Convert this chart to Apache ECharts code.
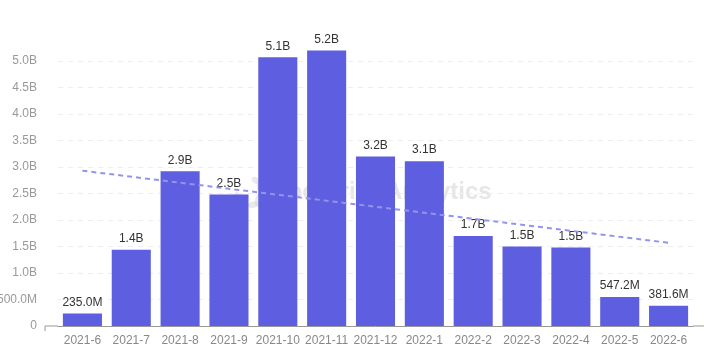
<!doctype html>
<html>
    <head>
        <meta charset="utf-8">
        <title>Monthly volume</title>
        <style>
            html, body { margin: 0; padding: 0; background: #fff; }
            #main { width: 704px; height: 351px; }
        </style>
    </head>
    <body>
        <div id="main"></div>
        <script src="https://cdn.jsdelivr.net/npm/echarts@6/dist/echarts.min.js"></script>
        <script>
            var months = ['2021-6', '2021-7', '2021-8', '2021-9', '2021-10', '2021-11', '2021-12',
                '2022-1', '2022-2', '2022-3', '2022-4', '2022-5', '2022-6'];
            var volume = [235.0e6, 1.44e9, 2.92e9, 2.48e9, 5.07e9, 5.2e9, 3.2e9,
                3.11e9, 1.7e9, 1.5e9, 1.48e9, 547.2e6, 381.6e6];
            // dashed trend line, endpoints
            var trend = [[0, 2.93e9], [12, 1.57e9]];

            function fmt(v) {
                if (v === 0) return '0';
                if (Math.abs(v) >= 1e9) return (v / 1e9).toFixed(1) + 'B';
                return (v / 1e6).toFixed(1) + 'M';
            }

            // little watermark logo: a ring of blobs
            var logo = [];
            [[-60, 7, -12], [-15, 12, -6], [30, 12, 4], [75, 7, 12], [150, 9, 0]].forEach(function (b) {
                var a = b[0] * Math.PI / 180;
                logo.push({
                    type: 'circle',
                    x: 250 + 13 * Math.cos(a),
                    y: 192 + 13 * Math.sin(a),
                    scaleX: 0.6,
                    rotation: -a,
                    shape: { cx: 0, cy: 0, r: b[1] / 1.3 },
                    style: { fill: 'rgba(215,215,215,0.55)' },
                    silent: true
                });
            });

            var chart = echarts.init(document.getElementById('main'));

            chart.setOption({
                animation: false,
                textStyle: { fontFamily: 'sans-serif' },
                grid: { left: 58, right: 11, top: 50.4, bottom: 25, outerBoundsMode: 'none' },
                graphic: logo.concat([{
                    type: 'text',
                    x: 273,
                    y: 192,
                    silent: true,
                    style: {
                        text: 'Footprint Analytics',
                        fill: 'rgba(210,210,210,0.55)',
                        font: 'bold 24px sans-serif',
                        verticalAlign: 'middle'
                    }
                }, {
                    type: 'line',
                    shape: { x1: 45, y1: 326, x2: 58, y2: 326 },
                    style: { stroke: '#999', lineWidth: 1 }
                }, {
                    type: 'line',
                    shape: { x1: 45, y1: 326, x2: 45, y2: 331 },
                    style: { stroke: '#999', lineWidth: 1 }
                }, {
                    type: 'line',
                    shape: { x1: 693, y1: 326, x2: 704, y2: 326 },
                    style: { stroke: '#999', lineWidth: 1 }
                }]),
                xAxis: {
                    type: 'category',
                    data: months,
                    axisLine: { lineStyle: { color: '#999' } },
                    axisTick: { show: false },
                    axisLabel: { color: '#888', fontSize: 12, margin: 9, interval: 0 }
                },
                yAxis: {
                    type: 'value',
                    min: 0,
                    max: 5.2e9,
                    interval: 5e8,
                    axisLine: { show: false },
                    axisTick: { show: false },
                    axisLabel: {
                        color: '#999',
                        fontSize: 12,
                        margin: 21,
                        showMaxLabel: false,
                        formatter: fmt
                    },
                    splitLine: {
                        showMaxLine: false,
                        lineStyle: { color: '#eee', type: [5, 5] }
                    }
                },
                series: [{
                    type: 'bar',
                    data: volume,
                    barCategoryGap: '20%',
                    itemStyle: { color: '#5e5ee0' },
                    label: {
                        show: true,
                        position: 'top',
                        color: '#333',
                        fontSize: 12,
                        formatter: function (p) { return fmt(p.value); }
                    }
                }, {
                    type: 'line',
                    data: trend,
                    symbol: 'none',
                    z: 3,
                    lineStyle: { color: '#9494ec', width: 2, type: [5, 4] }
                }]
            });

            window.addEventListener('resize', function () {
                chart.resize();
            });
        </script>
    </body>
</html>
